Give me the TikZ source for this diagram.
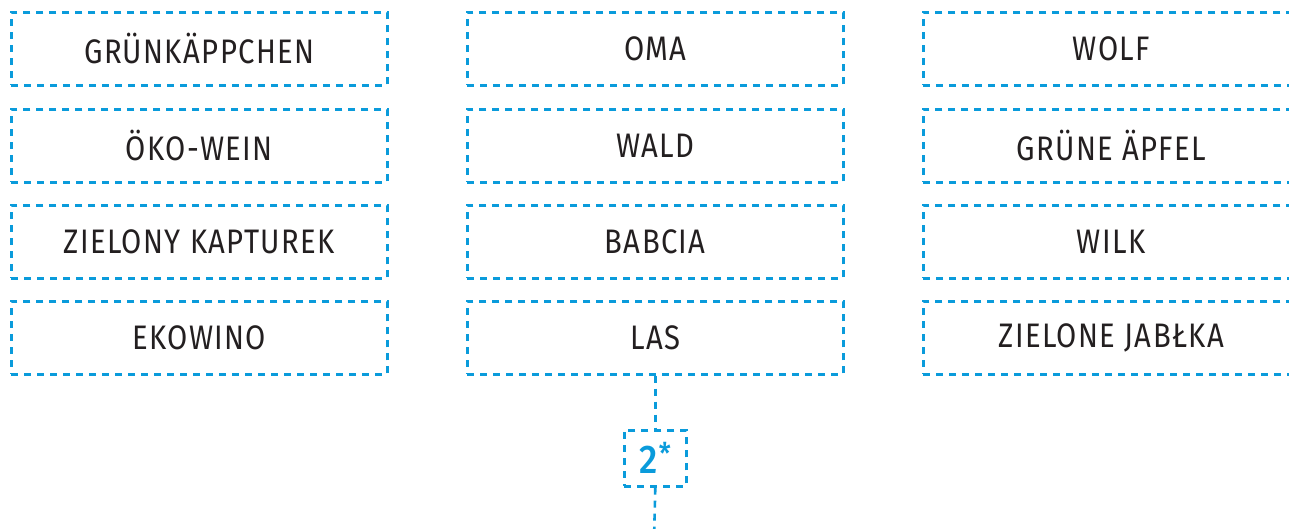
\documentclass[tikz,border=0pt]{standalone}
\usepackage{fontspec}
\setmainfont{Fira Sans}[FakeStretch=0.86,LetterSpace=4]
\newfontfamily\numfont{Fira Sans Medium}[FakeStretch=0.9]
\definecolor{lineblue}{RGB}{10,155,219}
\definecolor{ink}{RGB}{35,31,32}
\tikzset{
  dline/.style={draw=lineblue, line width=2.6pt, dash pattern=on 7pt off 6pt},
  wordbox/.style={dline, minimum width=376pt, minimum height=73pt, inner sep=0pt,
    text=ink, font=\fontsize{34}{34}\selectfont, anchor=north west},
  numbox/.style={dline, minimum width=62pt, minimum height=56pt, inner sep=0pt,
    text=lineblue, font=\numfont\fontsize{40}{40}\selectfont, anchor=north west},
}
\begin{document}
\begin{tikzpicture}[x=1pt,y=-1pt]
\useasboundingbox (0,0) rectangle (1289,529);
\clip (0,0) rectangle (1289,529);
% left column
\node[wordbox] (g1) at (10,11) {GRÜNKÄPPCHEN};
\node[wordbox] (g2) at (10,108) {ÖKO-WEIN};
\node[wordbox] (g3) at (10,204) {ZIELONY KAPTUREK};
\node[wordbox] (g4) at (10,300) {EKOWINO};
% middle column
\node[wordbox] (m1) at (466,11) {OMA};
\node[wordbox] (m2) at (466,108) {WALD};
\node[wordbox] (m3) at (466,204) {BABCIA};
\node[wordbox] (las) at (466,300) {LAS};
% right column
\node[wordbox] (r1) at (922,11) {WOLF};
\node[wordbox] (r2) at (922,108) {GRÜNE ÄPFEL};
\node[wordbox] (r3) at (922,204) {WILK};
\node[wordbox] (r4) at (922,300) {ZIELONE JABŁKA};
% number box
\node[numbox] (two) at (623,429) {2\kern1pt\raisebox{0.42ex}{\fontsize{30}{30}\selectfont *}};
\coordinate (bot) at (654,540);
\draw[dline] (las.south) -- (two.north);
\draw[dline] (two.south) -- (bot);
\end{tikzpicture}
\end{document}
